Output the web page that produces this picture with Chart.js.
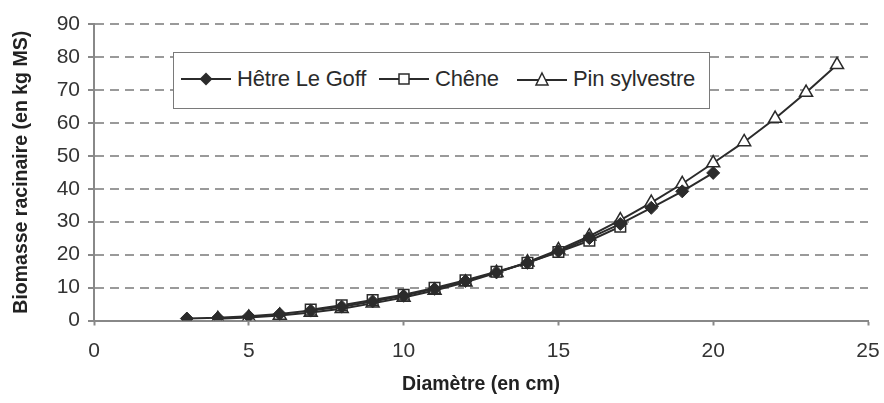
<!DOCTYPE html>
<html lang="fr">
<head>
  <meta charset="UTF-8">
  <title>Biomasse racinaire</title>
  <script src="https://cdn.jsdelivr.net/npm/chart.js"></script>
  <style>
    body {
      margin: 0;
      background: #fff;
      font-family: 'Liberation Sans', Arial, sans-serif;
    }
    .wrap {
      position: relative;
      width: 884px;
      height: 403px;
    }
    .legend {
      position: absolute;
      left: 173px;
      top: 52px;
      width: 535px;
      height: 55px;
      border: 1px solid #7a7a7a;
      background: #fff;
      color: #2b2b2b;
      font-size: 22px;
    }
    .legend .item {
      position: absolute;
      top: 13px;
      display: flex;
      align-items: center;
      white-space: nowrap;
      letter-spacing: -0.2px;
    }
    .legend svg {
      margin-right: 6px;
    }
  </style>
</head>
<body>
  <div class="wrap">
    <canvas id="rootChart" width="884" height="403"></canvas>

    <!-- Légende -->
    <div class="legend">
      <div class="item" style="left:7px">
        <svg width="50" height="16"><line x1="0" y1="8" x2="50" y2="8" stroke="#2b2b2b" stroke-width="2"/><polygon points="25,1.5 31.5,8 25,14.5 18.5,8" fill="#2b2b2b"/></svg>
        <span>Hêtre Le Goff</span>
      </div>
      <div class="item" style="left:205px">
        <svg width="50" height="16"><line x1="0" y1="8" x2="50" y2="8" stroke="#2b2b2b" stroke-width="2"/><rect x="20" y="3" width="10" height="10" fill="#fff" stroke="#2b2b2b" stroke-width="1.5"/></svg>
        <span>Chêne</span>
      </div>
      <div class="item" style="left:343px">
        <svg width="50" height="16"><line x1="0" y1="9" x2="50" y2="9" stroke="#2b2b2b" stroke-width="2"/><polygon points="25,2 31,14 19,14" fill="#fff" stroke="#2b2b2b" stroke-width="1.5"/></svg>
        <span>Pin sylvestre</span>
      </div>
    </div>
  </div>

  <script>
    // Diamètres (cm) et biomasse (kg MS) par essence
    const hetreDiam = [3, 4, 5, 6, 7, 8, 9, 10, 11, 12, 13, 14, 15, 16, 17, 18, 19, 20];
    const hetreVals = [0.6, 0.8, 1.3, 2.0, 3.0, 4.2, 5.8, 7.5, 9.6, 12.0, 14.6, 17.5, 21.0, 25.0, 29.3, 34.2, 39.2, 44.8];

    const cheneDiam = [7, 8, 9, 10, 11, 12, 13, 14, 15, 16, 17];
    const cheneVals = [3.3, 4.6, 6.2, 7.8, 9.9, 12.2, 14.8, 17.5, 20.8, 24.2, 28.5];

    const pinDiam = [4, 5, 6, 7, 8, 9, 10, 11, 12, 13, 14, 15, 16, 17, 18, 19, 20, 21, 22, 23, 24];
    const pinVals = [0.5, 0.9, 1.5, 2.4, 3.6, 5.2, 7.0, 9.1, 11.6, 14.5, 17.7, 21.4, 25.6, 30.5, 35.8, 41.5, 47.8, 54.2, 61.3, 69.2, 77.6];

    const xTicks = [0, 5, 10, 15, 20, 25];
    const yTicks = [0, 10, 20, 30, 40, 50, 60, 70, 80, 90];

    const toPoints = (xs, ys) => xs.map((x, i) => ({ x: x, y: ys[i] }));
    const dark = '#2b2b2b';
    const axisGrey = '#888';
    const fontFam = "'Liberation Sans', Arial, sans-serif";

    const rootChart = new Chart(document.getElementById('rootChart'), {
      type: 'line',
      data: {
        datasets: [
          {
            label: 'Hêtre Le Goff',
            data: toPoints(hetreDiam, hetreVals),
            borderColor: dark,
            backgroundColor: dark,
            borderWidth: 2,
            pointStyle: 'rectRot',
            pointRadius: 6.5,
            pointBorderWidth: 1,
            pointBackgroundColor: dark,
            pointBorderColor: dark
          },
          {
            label: 'Chêne',
            data: toPoints(cheneDiam, cheneVals),
            borderColor: dark,
            borderWidth: 2,
            pointStyle: 'rect',
            pointRadius: 7.5,
            pointBorderWidth: 1.5,
            pointBackgroundColor: '#fff',
            pointBorderColor: dark
          },
          {
            label: 'Pin sylvestre',
            data: toPoints(pinDiam, pinVals),
            borderColor: dark,
            borderWidth: 2,
            pointStyle: 'triangle',
            pointRadius: 7.5,
            pointBorderWidth: 1.5,
            pointBackgroundColor: '#fff',
            pointBorderColor: dark
          }
        ]
      },
      options: {
        responsive: false,
        animation: false,
        layout: {
          padding: { top: 24, right: 16, bottom: 0, left: 0 }
        },
        plugins: {
          legend: { display: false },
          tooltip: { enabled: false }
        },
        scales: {
          x: {
            type: 'linear',
            min: 0,
            max: 25,
            afterBuildTicks: (scale) => { scale.ticks = xTicks.map(v => ({ value: v })); },
            afterFit: (scale) => {
              scale.height = 82.5;
              scale.paddingLeft = 0;
              scale.paddingRight = 0;
            },
            ticks: {
              color: '#333',
              font: { family: fontFam, size: 21 },
              padding: 13,
              maxRotation: 0
            },
            grid: {
              drawOnChartArea: false,
              drawTicks: true,
              tickLength: 5,
              tickColor: axisGrey,
              tickWidth: 2,
              tickBorderDash: []
            },
            border: { color: axisGrey, width: 2 },
            title: {
              display: true,
              text: 'Diamètre (en cm)',
              color: '#222',
              font: { family: fontFam, size: 19.5, weight: 'bold' },
              padding: { top: 0, bottom: 7 }
            }
          },
          y: {
            min: 0,
            max: 90,
            afterBuildTicks: (scale) => { scale.ticks = yTicks.map(v => ({ value: v })); },
            afterFit: (scale) => { scale.width = 94; },
            ticks: {
              color: '#333',
              font: { family: fontFam, size: 21 },
              padding: 8
            },
            grid: {
              color: '#9a9a9a',
              lineWidth: 2,
              drawTicks: true,
              tickLength: 6,
              tickColor: axisGrey,
              tickWidth: 2,
              tickBorderDash: []
            },
            border: { color: axisGrey, width: 2, dash: [9, 6] },
            title: {
              display: true,
              text: 'Biomasse racinaire (en kg MS)',
              color: '#222',
              font: { family: fontFam, size: 19.5, weight: 'bold' },
              padding: { top: 10, bottom: 0 }
            }
          }
        }
      }
    });
  </script>
</body>
</html>
